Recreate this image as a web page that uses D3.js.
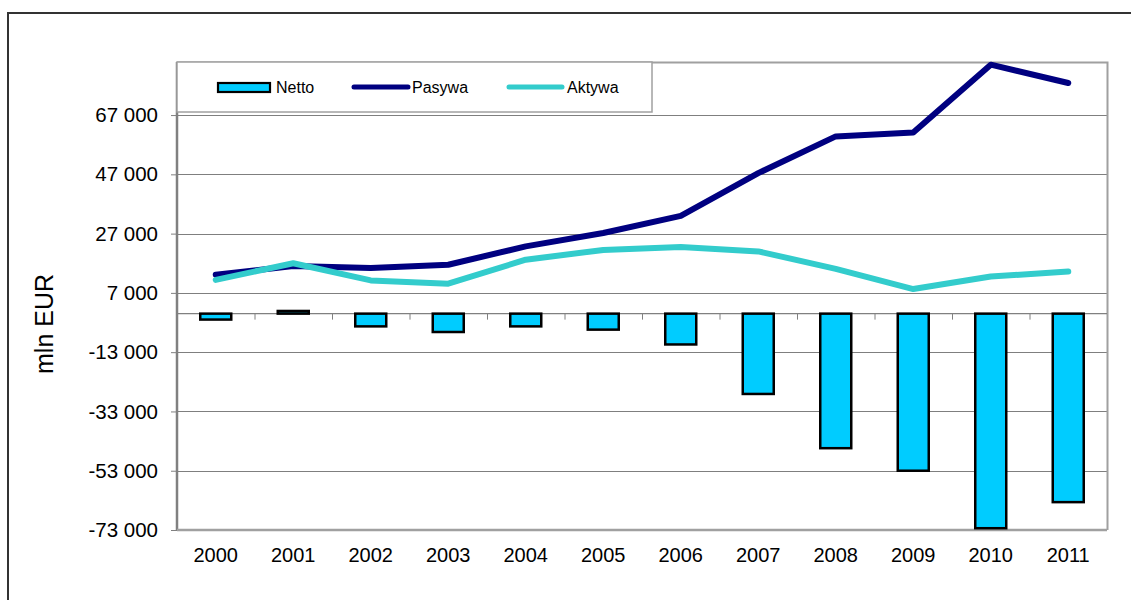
<!DOCTYPE html>
<html><head><meta charset="utf-8">
<script src="https://cdn.jsdelivr.net/npm/d3@7"></script>
<style>body{margin:0;background:#fff}svg{display:block;font-family:"Liberation Sans",Arial,sans-serif}</style>
</head><body><svg id="c" width="1131" height="600"></svg>
<script>
const years = ["2000","2001","2002","2003","2004","2005","2006","2007","2008","2009","2010","2011"];
const netto = [-2000, 900, -4300, -6200, -4300, -5400, -10400, -27100, -45400, -53000, -72400, -63600];
const pasywa = [13100, 16100, 15400, 16500, 22700, 27200, 33000, 47400, 59800, 61100, 84000, 77800];
const aktywa = [11400, 17000, 11200, 10100, 18200, 21500, 22450, 21000, 15100, 8300, 12500, 14200];
const yTicks = [67000, 47000, 27000, 7000, -13000, -33000, -53000, -73000];
const seriesNames = ["Netto", "Pasywa", "Aktywa"];

const svg = d3.select("#c");
const L = 177, R = 1107, T = 62, B = 530;
const x = d3.scaleBand().domain(years).range([L, R]);
const y = d3.scaleLinear().domain([-73000, 84900]).range([B, T]);
const fmt = v => (v < 0 ? "-" : "") + d3.format(",")(Math.abs(v)).replace(/,/g, " ");
const FF = "Liberation Sans, Arial, sans-serif";

// outer border
svg.append("rect").attr("x", 8).attr("y", 13).attr("width", 1140).attr("height", 600)
  .attr("fill", "none").attr("stroke", "#333").attr("stroke-width", 2);

// gridlines
svg.append("g").selectAll("line").data(yTicks.filter(v => v > -73000)).join("line")
  .attr("x1", L).attr("x2", R).attr("y1", d => Math.round(y(d)) + 0.5).attr("y2", d => Math.round(y(d)) + 0.5)
  .attr("stroke", "#7f7f7f").attr("stroke-width", 1.2);

// plot border top/right
svg.append("path").attr("d", `M${L},${T + 0.5}H${R + 0.5}V${B}`).attr("fill", "none")
  .attr("stroke", "#a0a0a0").attr("stroke-width", 2);

// y axis
const yAxis = d3.axisLeft(y).tickValues(yTicks).tickFormat(fmt).tickSize(6).tickPadding(13);
const gy = svg.append("g").attr("transform", `translate(${L},0)`).call(yAxis)
  .attr("font-size", 20.5).attr("font-family", FF);
gy.select(".domain").remove();
gy.selectAll(".tick line").attr("stroke", "#808080");
gy.selectAll(".tick text").attr("fill", "#000");
svg.append("line").attr("x1", L).attr("x2", L).attr("y1", T).attr("y2", B + 1)
  .attr("stroke", "#808080").attr("stroke-width", 2.5);

// bottom axis line
svg.append("line").attr("x1", L).attr("x2", R).attr("y1", B).attr("y2", B)
  .attr("stroke", "#a0a0a0").attr("stroke-width", 2.5);

// zero axis with category ticks
const z = y(0);
svg.append("line").attr("x1", L).attr("x2", R).attr("y1", z).attr("y2", z).attr("stroke", "#808080").attr("stroke-width", 1.2);
svg.append("g").selectAll("line").data(years.slice(1)).join("line")
  .attr("x1", d => x(d) + 0.5).attr("x2", d => x(d) + 0.5).attr("y1", z).attr("y2", z + 6)
  .attr("stroke", "#808080");

// x labels
svg.append("g").attr("font-size", 20).attr("font-family", FF).selectAll("text").data(years).join("text")
  .attr("x", d => x(d) + x.bandwidth() / 2).attr("y", 562).attr("text-anchor", "middle")
  .text(d => d);

// bars
const bw = 31;
svg.append("g").selectAll("rect").data(years).join("rect")
  .attr("x", d => x(d) + x.bandwidth() / 2 - bw / 2).attr("width", bw)
  .attr("y", (d, i) => Math.min(y(0), y(netto[i])))
  .attr("height", (d, i) => Math.abs(y(netto[i]) - y(0)))
  .attr("fill", "#00ccff").attr("stroke", "#000").attr("stroke-width", 2.5);

// lines
const line = d3.line().x((d, i) => x(years[i]) + x.bandwidth() / 2).y(d => y(d));
svg.append("path").datum(pasywa).attr("d", line).attr("fill", "none")
  .attr("stroke", "#000080").attr("stroke-width", 6).attr("stroke-linejoin", "round").attr("stroke-linecap", "round");
svg.append("path").datum(aktywa).attr("d", line).attr("fill", "none")
  .attr("stroke", "#33cccc").attr("stroke-width", 6).attr("stroke-linejoin", "round").attr("stroke-linecap", "round");

// legend
const lg = svg.append("g").attr("font-family", FF);
lg.append("rect").attr("x", L).attr("y", T).attr("width", 475).attr("height", 50)
  .attr("fill", "#fff").attr("stroke", "#a0a0a0").attr("stroke-width", 1.5);
const ly = 87;
lg.append("rect").attr("x", 218).attr("y", ly - 4).attr("width", 52).attr("height", 9)
  .attr("fill", "#00ccff").attr("stroke", "#000").attr("stroke-width", 2.2);
lg.append("line").attr("x1", 354).attr("x2", 408).attr("y1", ly).attr("y2", ly)
  .attr("stroke", "#000080").attr("stroke-width", 5).attr("stroke-linecap", "round");
lg.append("line").attr("x1", 509).attr("x2", 562).attr("y1", ly).attr("y2", ly)
  .attr("stroke", "#33cccc").attr("stroke-width", 5).attr("stroke-linecap", "round");
const lx = [276, 412, 567];
lg.selectAll("text").data(seriesNames).join("text")
  .attr("x", (d, i) => lx[i]).attr("y", ly + 6).attr("font-size", 16).text(d => d);

// y title
svg.append("text").attr("transform", "translate(53,324) rotate(-90)").attr("text-anchor", "middle")
  .attr("font-family", FF).attr("font-size", 25).text("mln EUR");
</script></body></html>
